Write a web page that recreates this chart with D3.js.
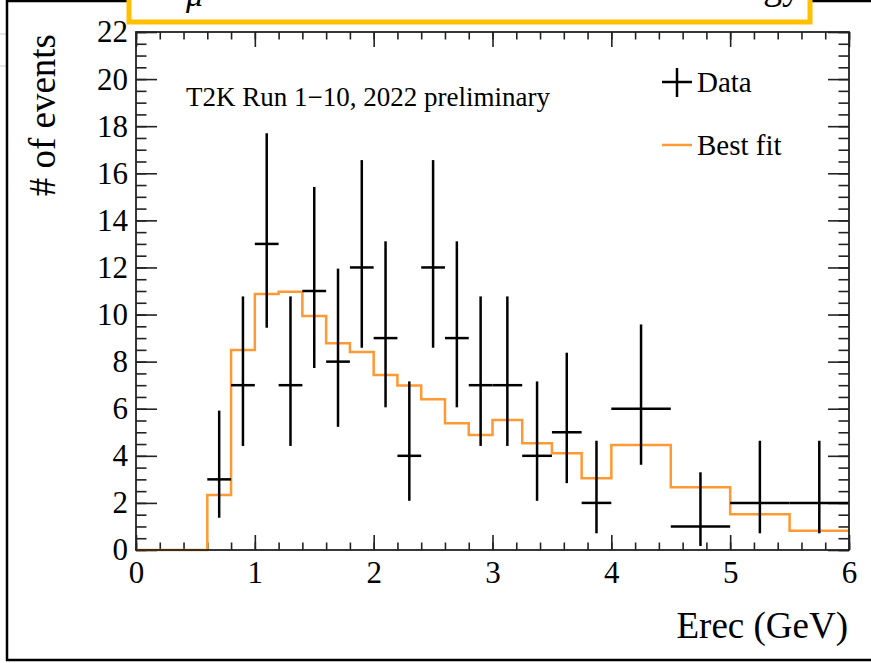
<!DOCTYPE html>
<html>
<head>
<meta charset="utf-8">
<script src="https://cdn.jsdelivr.net/npm/d3@7"></script>
<style>
  body { margin: 0; background: #fff; }
  svg { display: block; }
  text { font-family: "Liberation Serif", "Times New Roman", serif; fill: #000; }
</style>
</head>
<body>
<svg width="871" height="663"></svg>
<script>
// bin edges of the data histogram (GeV)
const dataEdges = [0.6, 0.8, 1.0, 1.2, 1.4, 1.6, 1.8, 2.0, 2.2, 2.4, 2.6, 2.8, 3.0,
                   3.25, 3.5, 3.75, 4.0, 4.5, 5.0, 5.5, 6.0];
const dataCounts = [3, 7, 13, 7, 11, 8, 12, 9, 4, 12, 9, 7, 7, 4, 5, 2, 6, 1, 2, 2];
// error bar ends
const errLow  = [1.37, 4.42, 9.44, 4.42, 7.73, 5.23, 8.59, 6.06, 2.09, 8.59, 6.06, 4.42, 4.42, 2.09, 2.84, 0.71, 3.62, 0.17, 0.71, 0.71];
const errHigh = [5.92, 10.77, 17.70, 10.77, 15.42, 11.95, 16.56, 13.11, 7.16, 16.56, 13.11, 10.77, 10.77, 7.16, 8.38, 4.64, 9.58, 3.30, 4.64, 4.64];

// best fit histogram
const fitEdges = [0, 0.6, 0.8, 1.0, 1.2, 1.4, 1.6, 1.8, 2.0, 2.2, 2.4, 2.6, 2.8, 3.0,
                  3.25, 3.5, 3.75, 4.0, 4.5, 5.0, 5.5, 6.0];
const fitValues = [0, 2.34, 8.49, 10.87, 10.97, 9.94, 8.78, 8.41, 7.43, 6.99, 6.40, 5.38, 4.88,
                   5.52, 4.53, 4.11, 3.05, 4.46, 2.66, 1.52, 0.82];

const xMajor = [0, 1, 2, 3, 4, 5, 6];
const yMajor = [0, 2, 4, 6, 8, 10, 12, 14, 16, 18, 20, 22];

const frame = { left: 136, right: 849, top: 32, bottom: 550 };
const orange = "#ff9933";

const svg = d3.select("svg");

/* ----------- slide bits around the plot ----------- */

svg.append("line").attr("x1", 0).attr("x2", 7).attr("y1", 34).attr("y2", 34)
    .attr("stroke", "#ddd").attr("stroke-width", 1.5);
svg.append("line").attr("x1", 0).attr("x2", 7).attr("y1", 66).attr("y2", 66)
    .attr("stroke", "#ddd").attr("stroke-width", 1.5);

svg.append("path")
    .attr("d", "M7,0 L7,660 L871,660 M7,1 L128,1 M812,1 L871,1")
    .attr("fill", "none").attr("stroke", "#000").attr("stroke-width", 2.5);

svg.append("rect")
    .attr("x", 129).attr("y", -20).attr("width", 681).attr("height", 42)
    .attr("fill", "#fff").attr("stroke", "#ffc000").attr("stroke-width", 5);

// slide title, mostly cut off by the top of the window (as in the original)
svg.append("text").attr("x", 186).attr("y", 6)
    .attr("font-family", "Liberation Serif").attr("font-style", "italic")
    .style("font-size", "34px").text("μ");
svg.append("text").attr("x", 801).attr("y", -1).attr("text-anchor", "end")
    .attr("font-family", "Liberation Sans")
    .style("font-size", "38px").text("energy");

/* ----------- scales ----------- */

const x = d3.scaleLinear().domain([0, 6]).range([frame.left, frame.right]);
const y = d3.scaleLinear().domain([0, 22]).range([frame.bottom, frame.top]);

/* ----------- axes (ticks inside, on all four sides) ----------- */

const tickStyle = g => {
    g.select(".domain").remove();
    g.selectAll("line").attr("stroke", "#222").attr("stroke-width", 1.6);
    g.selectAll("text").style("font-size", "31px").attr("font-family", "Liberation Serif");
};

const xMinor = d3.range(0, 6.001, 0.2).map(v => +v.toFixed(2));
const yMinor = d3.range(0, 22.001, 0.5);

svg.append("g").attr("transform", `translate(0,${frame.bottom})`)
    .call(d3.axisBottom(x).tickValues(xMinor).tickSize(-7.5).tickSizeOuter(0).tickFormat(""))
    .call(tickStyle);
svg.append("g").attr("transform", `translate(0,${frame.bottom})`)
    .call(d3.axisBottom(x).tickValues(xMajor).tickSize(-15).tickSizeOuter(0).tickPadding(11).tickFormat(d3.format("d")))
    .call(tickStyle);
svg.append("g").attr("transform", `translate(0,${frame.top})`)
    .call(d3.axisTop(x).tickValues(xMinor).tickSize(-7.5).tickSizeOuter(0).tickFormat(""))
    .call(tickStyle);
svg.append("g").attr("transform", `translate(0,${frame.top})`)
    .call(d3.axisTop(x).tickValues(xMajor).tickSize(-15).tickSizeOuter(0).tickFormat(""))
    .call(tickStyle);

svg.append("g").attr("transform", `translate(${frame.left},0)`)
    .call(d3.axisLeft(y).tickValues(yMinor).tickSize(-10.5).tickSizeOuter(0).tickFormat(""))
    .call(tickStyle);
svg.append("g").attr("transform", `translate(${frame.left},0)`)
    .call(d3.axisLeft(y).tickValues(yMajor).tickSize(-21).tickSizeOuter(0).tickPadding(8).tickFormat(d3.format("d")))
    .call(tickStyle);
svg.append("g").attr("transform", `translate(${frame.right},0)`)
    .call(d3.axisRight(y).tickValues(yMinor).tickSize(-10.5).tickSizeOuter(0).tickFormat(""))
    .call(tickStyle);
svg.append("g").attr("transform", `translate(${frame.right},0)`)
    .call(d3.axisRight(y).tickValues(yMajor).tickSize(-21).tickSizeOuter(0).tickFormat(""))
    .call(tickStyle);

/* ----------- best fit histogram ----------- */

let fitPath = d3.path();
fitPath.moveTo(x(fitEdges[0]), y(fitValues[0]));
fitValues.forEach((v, i) => {
    fitPath.lineTo(x(fitEdges[i]), y(v));
    fitPath.lineTo(x(fitEdges[i + 1]), y(v));
});
svg.append("path")
    .attr("d", fitPath.toString())
    .attr("fill", "none")
    .attr("stroke", orange)
    .attr("stroke-width", 2.5);

/* ----------- data crosses ----------- */

const points = dataCounts.map((n, i) => ({
    lo: dataEdges[i], hi: dataEdges[i + 1], n: n,
    eLo: errLow[i], eHi: errHigh[i]
}));

const pts = svg.append("g").attr("stroke", "#000").attr("stroke-width", 2.5);
pts.selectAll("line.h").data(points).enter().append("line")
    .attr("class", "h")
    .attr("x1", d => x(d.lo)).attr("x2", d => x(d.hi))
    .attr("y1", d => y(d.n)).attr("y2", d => y(d.n));
pts.selectAll("line.v").data(points).enter().append("line")
    .attr("class", "v")
    .attr("x1", d => x((d.lo + d.hi) / 2)).attr("x2", d => x((d.lo + d.hi) / 2))
    .attr("y1", d => y(d.eLo)).attr("y2", d => y(d.eHi));

// frame
svg.append("rect")
    .attr("x", frame.left).attr("y", frame.top)
    .attr("width", frame.right - frame.left).attr("height", frame.bottom - frame.top)
    .attr("fill", "none").attr("stroke", "#222").attr("stroke-width", 1.8);

/* ----------- titles ----------- */

svg.append("text")
    .attr("x", 848).attr("y", 638).attr("text-anchor", "end")
    .style("font-size", "37px").text("Erec (GeV)");

svg.append("text")
    .attr("transform", "translate(55,34) rotate(-90)")
    .attr("text-anchor", "end")
    .style("font-size", "37px").text("# of events");

svg.append("text")
    .attr("x", 186).attr("y", 106)
    .style("font-size", "27px").text("T2K Run 1\u221210, 2022 preliminary");

/* ----------- legend ----------- */

const leg = svg.append("g");
leg.append("line").attr("x1", 662).attr("x2", 692).attr("y1", 82).attr("y2", 82)
    .attr("stroke", "#000").attr("stroke-width", 2.5);
leg.append("line").attr("x1", 677).attr("x2", 677).attr("y1", 68).attr("y2", 97)
    .attr("stroke", "#000").attr("stroke-width", 2.5);
leg.append("text").attr("x", 697).attr("y", 92).style("font-size", "29px").text("Data");

leg.append("line").attr("x1", 662).attr("x2", 692).attr("y1", 145).attr("y2", 145)
    .attr("stroke", orange).attr("stroke-width", 2.5);
leg.append("text").attr("x", 697).attr("y", 155).style("font-size", "29px").text("Best fit");
</script>
</body>
</html>
